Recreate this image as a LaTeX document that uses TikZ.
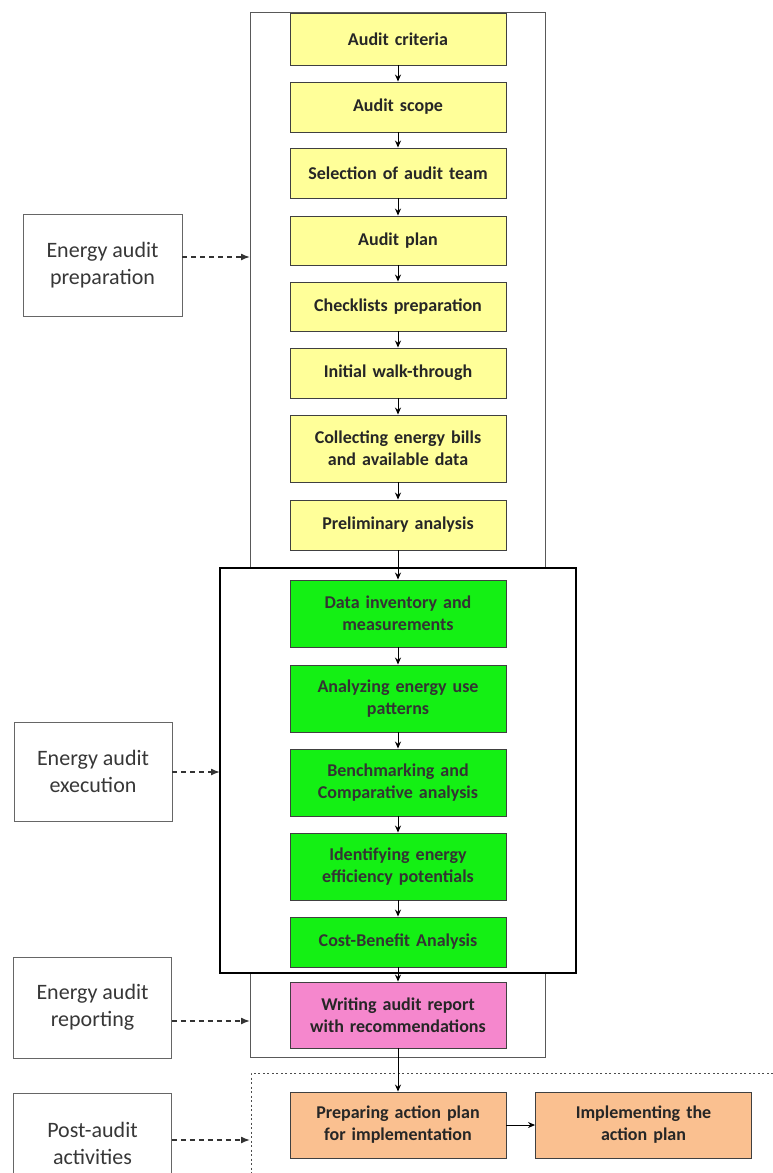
\documentclass[tikz,border=0pt]{standalone}
\usepackage{fontspec}
\setmainfont{Carlito}
\usetikzlibrary{arrows.meta}
\definecolor{yfill}{RGB}{255,255,153}
\definecolor{gfill}{RGB}{20,240,20}
\definecolor{pfill}{RGB}{245,135,205}
\definecolor{ofill}{RGB}{250,192,144}
\definecolor{lblue}{RGB}{55,55,55}
\begin{document}
\begin{tikzpicture}[x=1pt,y=-1pt,
  flowbox/.style={draw=black!75, line width=0.9pt, minimum width=216pt, text width=210pt, align=center, inner sep=1pt,
    font=\bfseries\fontsize{18}{22}\selectfont},
  ybox/.style={flowbox, fill=yfill, text=black!85},
  gbox/.style={flowbox, fill=gfill, text=black!80},
  pbox/.style={flowbox, fill=pfill, text=black!85},
  obox/.style={flowbox, fill=ofill, text=black!85},
  lbox/.style={draw=black!60, line width=0.8pt, fill=white, minimum width=158pt, minimum height=101pt, align=center,
    font=\fontsize{22}{27}\selectfont, text=lblue},
  flowarr/.style={-{Stealth[length=7pt,width=6pt]}, line width=1pt, black},
  darr/.style={-{Latex[length=9pt,width=7pt]}, line width=1.5pt, black!80, dash pattern=on 5pt off 4pt}
]
\useasboundingbox (0,0) rectangle (773,1173);
\fill[white] (0,0) rectangle (773,1173);

% frames
\draw[black!65, line width=0.8pt] (250,12) rectangle (545,1057);
\draw[black, line width=1.8pt, fill=white] (220,568) rectangle (576,973);
\coordinate (dtl) at (251,1073);
\coordinate (dtr) at (773,1073);
\coordinate (dbl) at (251,1173);
\draw[black!70, line width=0.9pt, dash pattern=on 2pt off 2.5pt] (dtr) -- (dtl) -- (dbl);

% yellow boxes
\node[ybox, minimum height=52pt] (y1) at (398,39) {Audit criteria};
\node[ybox, minimum height=50pt] (y2) at (398,107) {Audit scope};
\node[ybox, minimum height=50pt] (y3) at (398,173) {Selection of audit team};
\node[ybox, minimum height=49pt] (y4) at (398,240.5) {Audit plan};
\node[ybox, minimum height=49pt] (y5) at (398,306.5) {Checklists preparation};
\node[ybox, minimum height=50pt] (y6) at (398,373) {Initial walk-through};
\node[ybox, minimum height=67pt] (y7) at (398,448.5) {Collecting energy bills\\and available data};
\node[ybox, minimum height=50pt] (y8) at (398,525) {Preliminary analysis};

% green boxes
\node[gbox, minimum height=67pt] (g1) at (398,613.5) {Data inventory and\\measurements};
\node[gbox, minimum height=67pt] (g2) at (398,698.5) {Analyzing energy use\\patterns};
\node[gbox, minimum height=67pt] (g3) at (398,782.5) {Benchmarking and\\Comparative analysis};
\node[gbox, minimum height=67pt] (g4) at (398,866.5) {Identifying energy\\efficiency potentials};
\node[gbox, minimum height=50pt] (g5) at (398,942) {Cost-Benefit Analysis};

% pink
\node[pbox, minimum height=66pt] (p1) at (398,1015) {Writing audit report\\with recommendations};

% orange
\node[obox, minimum height=66pt] (o1) at (398,1125) {Preparing action plan\\for implementation};
\node[obox, minimum height=66pt] (o2) at (643.5,1125) {Implementing the\\action plan};

% flow arrows
\foreach \a/\b in {y1/y2,y2/y3,y3/y4,y4/y5,y5/y6,y6/y7,y7/y8,y8/g1,g1/g2,g2/g3,g3/g4,g4/g5,g5/p1,p1/o1}
  \draw[flowarr] (\a.south) -- (\b.north);
\draw[flowarr] (o1.east) -- (o2.west);

% labels
\node[lbox, minimum width=159pt, minimum height=102pt] (l1) at (102.5,265) {Energy audit\\preparation};
\node[lbox, minimum height=99pt] (l2) at (93,771.5) {Energy audit\\execution};
\node[lbox, minimum height=101pt] (l3) at (92.5,1007.5) {Energy audit\\reporting};
\node[lbox, minimum height=101pt] (l4) at (92.5,1143.5) {Post-audit\\activities};

\coordinate (f1) at (250,257);
\coordinate (f2) at (220,772);
\coordinate (f3) at (250,1021);
\coordinate (f4) at (250,1140);
\draw[darr] (l1.east |- f1) -- (f1);
\draw[darr] (l2.east |- f2) -- (f2);
\draw[darr] (l3.east |- f3) -- (f3);
\draw[darr] (l4.east |- f4) -- (f4);
\end{tikzpicture}
\end{document}
